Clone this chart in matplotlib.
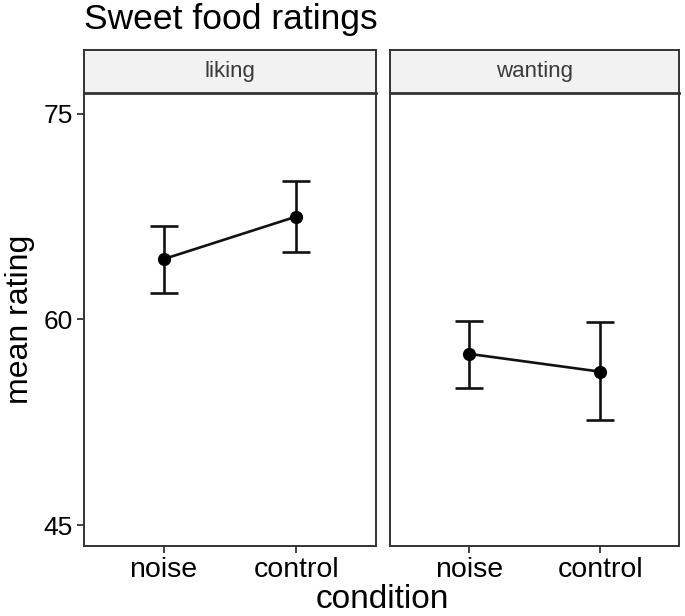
import numpy as np
import matplotlib.pyplot as plt

plt.rcParams['font.family'] = ['Liberation Sans', 'DejaVu Sans']

# data
conditions = ['noise', 'control']
panels = ['liking', 'wanting']
liking_mean = [64.4, 67.5]
liking_low = [61.9, 64.9]
liking_high = [66.8, 70.1]
wanting_mean = [57.5, 56.2]
wanting_low = [55.0, 52.7]
wanting_high = [59.9, 59.8]
y_ticks = [45, 60, 75]

means = [liking_mean, wanting_mean]
lows = [liking_low, wanting_low]
highs = [liking_high, wanting_high]

W, H = 685, 616
fig = plt.figure(figsize=(W / 100, H / 100), dpi=100)

def box(x0, y0, x1, y1):
    # pixel box (top-left origin) -> figure fraction
    return [x0 / W, 1 - y1 / H, (x1 - x0) / W, (y1 - y0) / H]

edge = '#333333'
panel_x = [(84, 376), (390, 679)]

for i, name in enumerate(panels):
    x0, x1 = panel_x[i]
    ax = fig.add_axes(box(x0, 93, x1, 546))
    x = np.arange(len(conditions))
    m = np.array(means[i])
    lo = np.array(lows[i])
    hi = np.array(highs[i])
    ax.errorbar(x, m, yerr=[m - lo, hi - m], fmt='none', ecolor='#111111',
                elinewidth=1.9, capsize=10, capthick=1.9, zorder=2)
    ax.plot(x, m, color='#111111', lw=1.9, zorder=3)
    ax.plot(x, m, 'o', color='black', ms=8.5, zorder=4)
    ax.set_xlim(-0.6, 1.6)
    ax.set_ylim(43.5, 76.5)
    ax.set_xticks(x)
    ax.set_xticklabels(conditions, fontsize=20.5)
    ax.set_yticks(y_ticks)
    if i == 0:
        ax.set_yticklabels([str(t) for t in y_ticks], fontsize=19)
        ax.set_ylabel('mean rating', fontsize=23, labelpad=6)
    else:
        ax.tick_params(axis='y', left=False, labelleft=False)
    ax.tick_params(length=5, width=1.3, color=edge, pad=3)
    for s in ax.spines.values():
        s.set_color(edge)
        s.set_linewidth(1.4)

    # facet strip
    sx = fig.add_axes(box(x0, 50, x1, 93))
    sx.set_facecolor('#F2F2F2')
    sx.set_xticks([])
    sx.set_yticks([])
    for s in sx.spines.values():
        s.set_color(edge)
        s.set_linewidth(1.4)
    sx.spines['bottom'].set_linewidth(2)
    sx.text(0.5, 0.5, name, ha='center', va='center', fontsize=16,
            color='#3a3a3a', transform=sx.transAxes)

fig.text(382 / W, 1 - 600 / H, 'condition', ha='center', va='center', fontsize=24)
fig.text(84 / W, 1 - 19 / H, 'Sweet food ratings', ha='left', va='center', fontsize=25.5)

fig.savefig('out.png', dpi=100)
